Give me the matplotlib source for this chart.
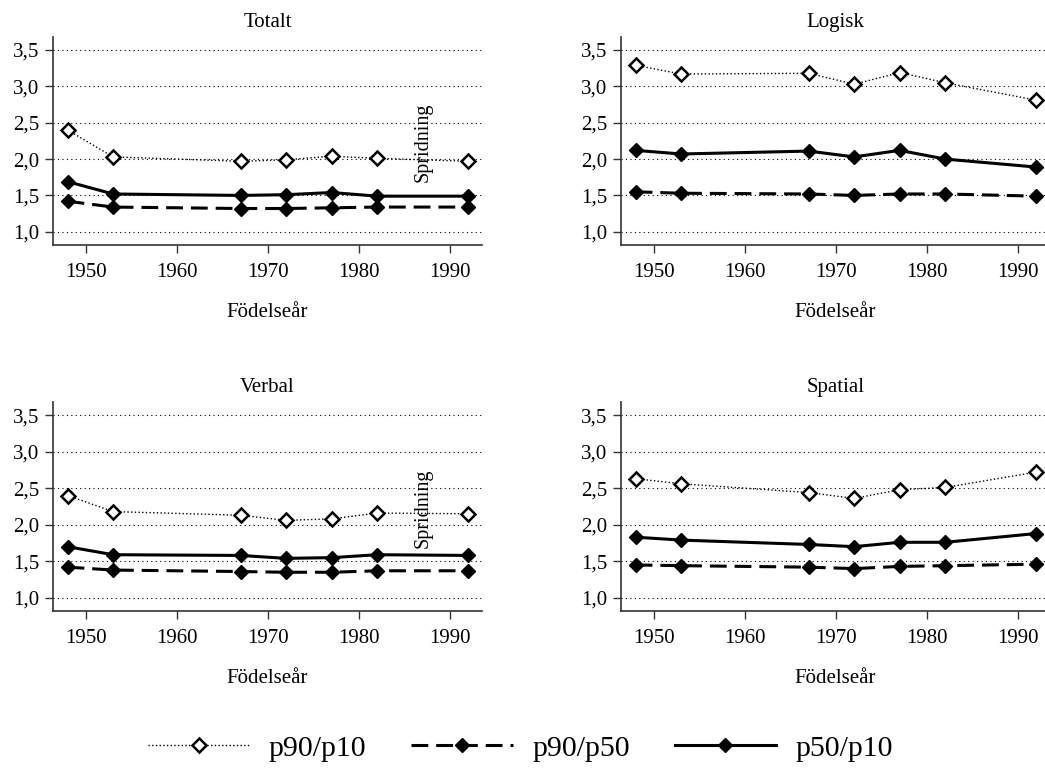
import matplotlib
matplotlib.use("Agg")
import matplotlib.pyplot as plt
from matplotlib.lines import Line2D

plt.rcParams['font.family'] = ['Liberation Serif', 'DejaVu Serif']

# birth cohorts
years = [1948, 1953, 1967, 1972, 1977, 1982, 1992]

# Totalt
tot_p90p10 = [2.40, 2.03, 1.97, 1.99, 2.04, 2.01, 1.97]
tot_p90p50 = [1.42, 1.34, 1.32, 1.32, 1.33, 1.34, 1.34]
tot_p50p10 = [1.69, 1.52, 1.50, 1.51, 1.54, 1.49, 1.49]

# Logisk
log_p90p10 = [3.29, 3.17, 3.18, 3.03, 3.19, 3.05, 2.81]
log_p90p50 = [1.55, 1.53, 1.52, 1.50, 1.52, 1.52, 1.49]
log_p50p10 = [2.12, 2.07, 2.11, 2.03, 2.12, 2.00, 1.89]

# Verbal
ver_p90p10 = [2.40, 2.18, 2.13, 2.06, 2.08, 2.16, 2.15]
ver_p90p50 = [1.42, 1.38, 1.36, 1.35, 1.35, 1.37, 1.37]
ver_p50p10 = [1.70, 1.59, 1.58, 1.54, 1.55, 1.59, 1.58]

# Spatial
spa_p90p10 = [2.63, 2.56, 2.44, 2.36, 2.48, 2.51, 2.72]
spa_p90p50 = [1.45, 1.44, 1.42, 1.40, 1.43, 1.44, 1.46]
spa_p50p10 = [1.83, 1.79, 1.73, 1.70, 1.76, 1.76, 1.88]

titles = ['Totalt', 'Logisk', 'Verbal', 'Spatial']
panels = [
    (tot_p90p10, tot_p90p50, tot_p50p10),
    (log_p90p10, log_p90p50, log_p50p10),
    (ver_p90p10, ver_p90p50, ver_p50p10),
    (spa_p90p10, spa_p90p50, spa_p50p10),
]
yticks = [1.0, 1.5, 2.0, 2.5, 3.0, 3.5]
ytick_labels = ['1,0', '1,5', '2,0', '2,5', '3,0', '3,5']
xticks = [1950, 1960, 1970, 1980, 1990]

fig = plt.figure(figsize=(10.45, 7.7), dpi=100)

# axes positions [left, bottom, width, height]; right column runs past the edge
positions = [
    [0.0507, 0.682, 0.4105, 0.270],
    [0.5943, 0.682, 0.4105, 0.270],
    [0.0507, 0.2065, 0.4105, 0.2715],
    [0.5943, 0.2065, 0.4105, 0.2715],
]

style_p9010 = dict(color='black', linestyle=':', linewidth=1.0, marker='D',
                   markersize=7, markerfacecolor='white', markeredgecolor='black',
                   markeredgewidth=1.8)
style_p9050 = dict(color='black', linestyle=(0, (5.5, 2.6)), linewidth=2.2, marker='D',
                   markersize=7, markerfacecolor='black', markeredgecolor='black')
style_p5010 = dict(color='black', linestyle='-', linewidth=2.2, marker='D',
                   markersize=7, markerfacecolor='black', markeredgecolor='black')

for i, (pos, title, (a, b, c)) in enumerate(zip(positions, titles, panels)):
    ax = fig.add_axes(pos)
    ax.plot(years, a, **style_p9010)
    ax.plot(years, b, **style_p9050)
    ax.plot(years, c, **style_p5010)
    ax.set_xlim(1946.4, 1993.5)
    ax.set_ylim(0.82, 3.68)
    ax.set_yticks(yticks)
    ax.set_yticklabels(ytick_labels)
    ax.set_xticks(xticks)
    for y in yticks:
        ax.axhline(y, color='black', linestyle=(0, (1, 3)), linewidth=0.8, zorder=0)
    ax.spines['top'].set_visible(False)
    ax.spines['right'].set_visible(False)
    for s in ['left', 'bottom']:
        ax.spines[s].set_color('#333333')
        ax.spines[s].set_linewidth(1.2)
    ax.tick_params(direction='out', length=6, width=1.0, labelsize=15, color='#333333')
    ax.tick_params(axis='x', pad=7)
    ax.tick_params(axis='y', pad=4)
    ax.set_title(title, fontsize=15, pad=7)
    ax.set_xlabel('Födelseår', fontsize=15, labelpad=15)
    if i in (0, 2):
        ax.text(1987, 2.23, 'Spridning', rotation=90, ha='center', va='center', fontsize=14.5)

handles = [Line2D([], [], **style_p9010),
           Line2D([], [], **style_p9050),
           Line2D([], [], **style_p5010)]
fig.legend(handles, ['p90/p10', 'p90/p50', 'p50/p10'], loc='center',
           bbox_to_anchor=(0.498, 0.028), ncol=3, frameon=False, fontsize=21.5,
           handlelength=3.4, columnspacing=1.5, handletextpad=0.65)

fig.savefig('out.png', dpi=100)
